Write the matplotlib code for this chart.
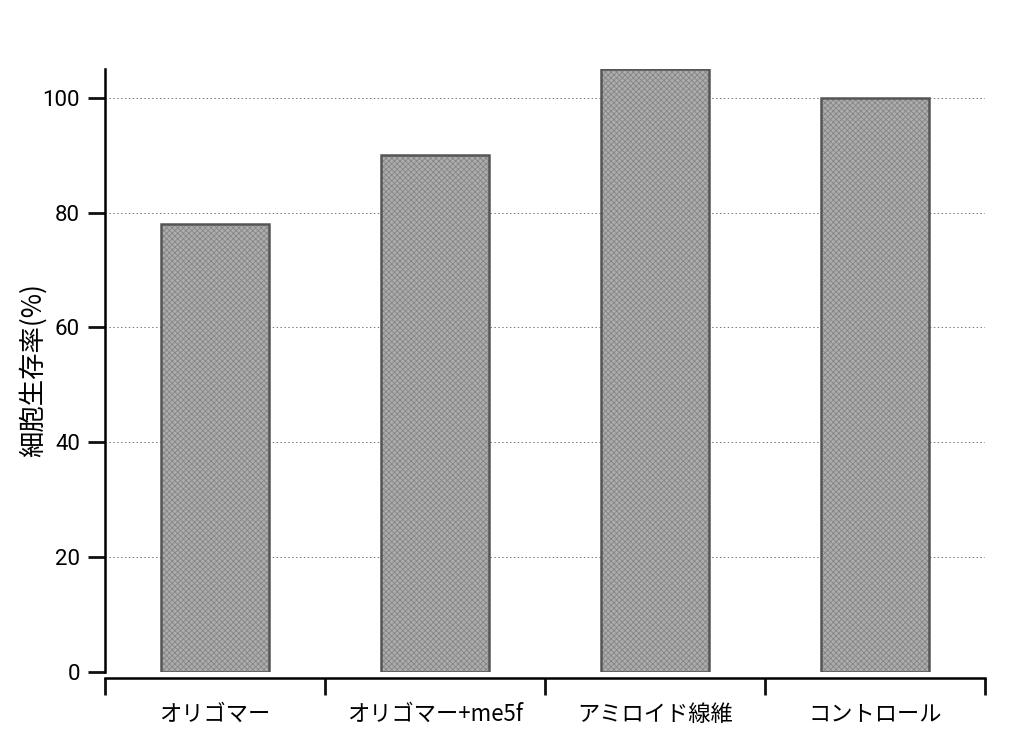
import matplotlib
matplotlib.use("Agg")
import matplotlib.pyplot as plt
import numpy as np

categories = ["オリゴマー", "オリゴマー+me5f", "アミロイド線維", "コントロール"]
values = [78, 90, 105, 100]
yticks = [0, 20, 40, 60, 80, 100]
ylabel = "細胞生存率(%)"

plt.rcParams['font.family'] = ['Noto Sans CJK JP', 'DejaVu Sans']
plt.rcParams['hatch.linewidth'] = 0.6

fig = plt.figure(figsize=(10.24, 7.46), dpi=100)
ax = fig.add_axes([0.1025, 0.0992, 0.8595, 0.8083])

x = np.arange(len(categories))
ax.bar(x, values, width=0.49, color='#adadad', edgecolor='#858585', hatch='xxxxxx',
       linewidth=0, zorder=2)
ax.bar(x, values, width=0.49, fill=False, edgecolor='#555555', linewidth=1.8, zorder=3)

ax.set_xlim(-0.5, len(categories) - 0.5)
ax.set_ylim(0, 105)

ax.set_yticks(yticks)
ax.set_yticklabels([str(v) for v in yticks], family=['Roboto', 'DejaVu Sans'])
ax.tick_params(axis='y', length=12, width=2, pad=6, color='#111111', labelsize=16)

ax.set_xticks(np.arange(-0.5, len(categories), 1.0))
ax.set_xticklabels([])
ax.set_xticks(x, minor=True)
ax.set_xticklabels(categories, minor=True)
ax.tick_params(axis='x', which='major', length=12, width=2, direction='out', color='#111111')
ax.tick_params(axis='x', which='minor', length=0, pad=18, labelsize=16)

ax.yaxis.grid(True, linestyle=(0, (1.5, 2.5)), color='#777777', linewidth=0.7, zorder=0)
ax.set_axisbelow(True)

for s in ['top', 'right']:
    ax.spines[s].set_visible(False)
ax.spines['left'].set_linewidth(1.8)
ax.spines['bottom'].set_linewidth(1.8)
ax.spines['bottom'].set_position(('outward', 4))

ax.set_ylabel(ylabel, fontsize=19, va='center')
ax.yaxis.set_label_coords(-0.082, 0.5)

fig.savefig("out.png", dpi=100)
